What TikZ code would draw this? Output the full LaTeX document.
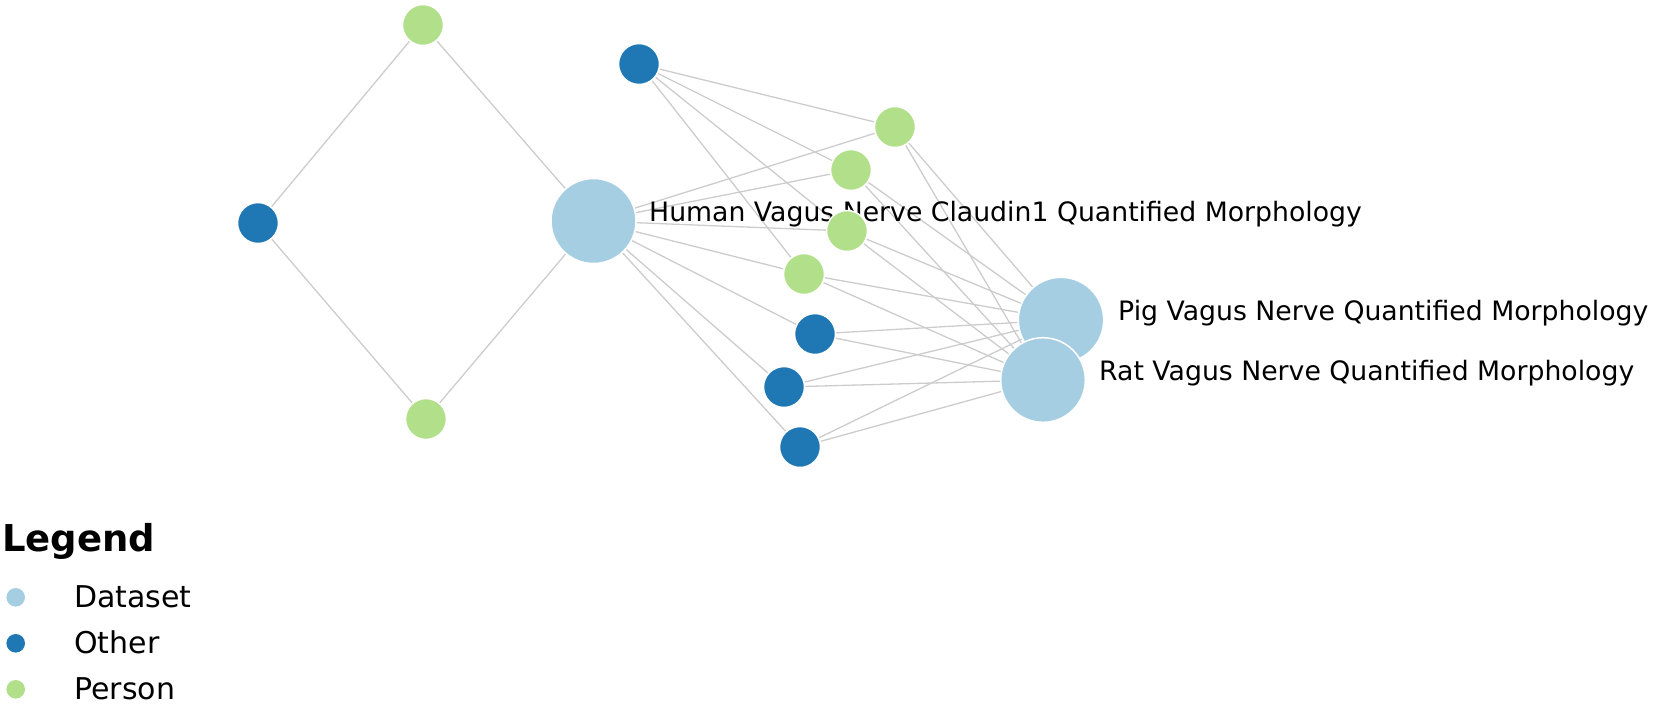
\documentclass[tikz,border=0pt]{standalone}
\usepackage{fontspec}
\setmainfont{DejaVu Sans}
\usetikzlibrary{backgrounds}
\definecolor{dsblue}{RGB}{166,206,227}
\definecolor{otblue}{RGB}{31,120,180}
\definecolor{pgreen}{RGB}{178,223,138}
\definecolor{linkgray}{RGB}{204,204,204}
\begin{document}
\begin{tikzpicture}[x=1pt,y=-1pt,
  nodebase/.style={circle, draw=white, line width=1.5pt, inner sep=0pt},
  dataset/.style={nodebase, fill=dsblue, minimum size=85pt},
  other/.style={nodebase, fill=otblue, minimum size=41pt},
  person/.style={nodebase, fill=pgreen, minimum size=41pt},
  link/.style={draw=linkgray, line width=1.3pt},
  lbl/.style={anchor=base west, inner sep=0pt, font=\fontsize{26.7}{32}\selectfont, text=black},
  legdot/.style={circle, inner sep=0pt, minimum size=18.6pt},
  legtxt/.style={anchor=base west, inner sep=0pt, font=\fontsize{30}{36}\selectfont, text=black}]
\useasboundingbox (0,0) rectangle (1654,705);

% left diamond
\node[person] (p1) at (423,25) {};
\node[other]  (o1) at (258,223) {};
\node[person] (p2) at (426,419) {};

% human dataset and its label
\node[dataset] (h) at (593.5,221) {};
\node[lbl] (hl) at (649,221) {Human Vagus Nerve Claudin1 Quantified Morphology};

% right cluster
\node[other]  (o2) at (639,64) {};
\node[person] (p3) at (895,127) {};
\node[person] (p4) at (851,170) {};
\node[person] (p5) at (847,231) {};
\node[person] (p6) at (804,274) {};
\node[other]  (o3) at (815,334) {};
\node[other]  (o4) at (784,387) {};
\node[other]  (o5) at (800,447) {};

\node[dataset, minimum size=85.4pt] (pig) at (1061,320) {};
\node[lbl] (pigl) at (1118,320) {Pig Vagus Nerve Quantified Morphology};
\node[dataset, minimum size=84.6pt] (rat) at (1043,380) {};
\node[lbl] (ratl) at (1099,380) {Rat Vagus Nerve Quantified Morphology};

\begin{scope}[on background layer]
  \draw[link] (p1) -- (o1);
  \draw[link] (o1) -- (p2);
  \draw[link] (p1) -- (h);
  \draw[link] (p2) -- (h);
  \foreach \t in {p3,p4,p5,p6} {\draw[link] (o2) -- (\t);}
  \foreach \t in {p3,p4,p5,p6,o3,o4,o5} {
    \draw[link] (h) -- (\t);
    \draw[link] (pig) -- (\t);
    \draw[link] (rat) -- (\t);
  }
\end{scope}

% legend
\node[anchor=base west, inner sep=0pt, font=\fontsize{37}{44}\selectfont\bfseries] (legt) at (2,551.7) {Legend};
\node[legdot, fill=dsblue] (ld) at (15.7,597.3) {};
\node[legtxt] (ldt) at (74,607.3) {Dataset};
\node[legdot, fill=otblue] (lo) at (15.7,643.3) {};
\node[legtxt] (lot) at (74,653.3) {Other};
\node[legdot, fill=pgreen] (lp) at (15.7,689.3) {};
\node[legtxt] (lpt) at (74,699.3) {Person};
\end{tikzpicture}
\end{document}
